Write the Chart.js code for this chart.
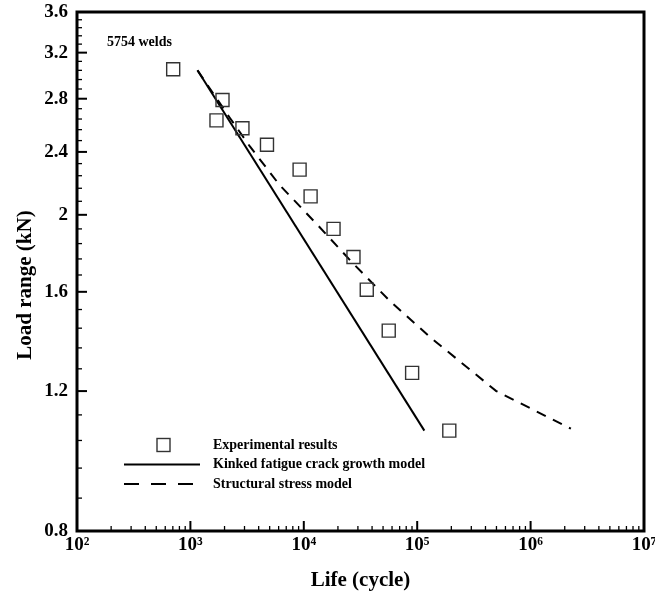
<!DOCTYPE html>
<html>
<head>
<meta charset="utf-8">
<script src="https://cdn.jsdelivr.net/npm/chart.js@4.4.1/dist/chart.umd.min.js"></script>
<style>
  html, body { margin: 0; padding: 0; background: #fff; }
  canvas { display: block; }
</style>
</head>
<body>
<canvas id="snChart" width="655" height="596"></canvas>
<script>
// ============ Data ============
const expLife = [705, 1919, 1698, 2877, 4735, 9183, 11480, 18290, 27420, 35910, 56100, 90200, 191900];
const expLoad = [3.05, 2.79, 2.63, 2.57, 2.45, 2.28, 2.11, 1.92, 1.77, 1.61, 1.43, 1.265, 1.07];

const kinkedLife = [1155, 115600];
const kinkedLoad = [3.04, 1.07];

const structLife = [1155, 2223, 3334, 6124, 12880, 26900, 56900, 132400, 306000, 498000, 2266000];
const structLoad = [3.04, 2.65, 2.44, 2.18, 1.95, 1.74, 1.56, 1.40, 1.27, 1.20, 1.076];

const xMajor = [1e2, 1e3, 1e4, 1e5, 1e6, 1e7];
const xTickLabels = ["10²", "10³", "10⁴", "10⁵", "10⁶", "10⁷"];
const yMajor = [0.8, 1.2, 1.6, 2, 2.4, 2.8, 3.2, 3.6];
const yTickLabels = ["0.8", "1.2", "1.6", "2", "2.4", "2.8", "3.2", "3.6"];

const legendLabels = ["Experimental results", "Kinked fatigue crack growth model", "Structural stress model"];
const noteText = "5754 welds";
const yTitle = "Load range (kN)";

// ============ Ticks ============
function buildXTicks() {
  const out = [];
  for (let i = 0; i < xMajor.length - 1; i++) {
    out.push({ value: xMajor[i], major: true });
    for (let k = 2; k <= 9; k++) out.push({ value: k * xMajor[i], major: false });
  }
  out.push({ value: xMajor[xMajor.length - 1], major: true });
  return out;
}

function buildYTicks() {
  const out = [];
  for (let i = 0; i < yMajor.length - 1; i++) {
    out.push({ value: yMajor[i], major: true });
    const step = (yMajor[i + 1] - yMajor[i]) / 5;
    for (let k = 1; k <= 4; k++) out.push({ value: Math.round((yMajor[i] + k * step) * 1000) / 1000, major: false });
  }
  out.push({ value: yMajor[yMajor.length - 1], major: true });
  return out;
}

const xTicks = buildXTicks();
const yTicks = buildYTicks();

const pts = (xs, ys) => xs.map((x, i) => ({ x: x, y: ys[i] }));
const serif = "'Liberation Serif', 'Times New Roman', serif";

// inward ticks, frame, legend, note, y title
const decor = {
  id: "decor",
  afterDraw(chart) {
    const { ctx, chartArea: a } = chart;
    const xs = chart.scales.x, ys = chart.scales.y;
    ctx.save();
    ctx.strokeStyle = "#000";
    xTicks.forEach(t => {
      const px = xs.getPixelForValue(t.value);
      ctx.lineWidth = t.major ? 2 : 1.3;
      ctx.beginPath();
      ctx.moveTo(px, a.bottom);
      ctx.lineTo(px, a.bottom - (t.major ? 10 : 5));
      ctx.stroke();
    });
    yTicks.forEach(t => {
      const py = ys.getPixelForValue(t.value);
      ctx.lineWidth = t.major ? 2 : 1.3;
      ctx.beginPath();
      ctx.moveTo(a.left, py);
      ctx.lineTo(a.left + (t.major ? 10 : 5), py);
      ctx.stroke();
    });
    // frame
    ctx.lineWidth = 3;
    ctx.beginPath();
    ctx.moveTo(a.left, a.top);
    ctx.lineTo(a.right, a.top);
    ctx.lineTo(a.right, a.bottom);
    ctx.lineTo(a.left, a.bottom);
    ctx.closePath();
    ctx.stroke();

    // legend
    ctx.fillStyle = "#000";
    ctx.font = "bold 14px " + serif;
    ctx.textBaseline = "middle";
    ctx.textAlign = "left";
    const lx = 213, ly = [445, 464.5, 484];
    legendLabels.forEach((s, i) => ctx.fillText(s, lx, ly[i]));
    ctx.strokeStyle = "#333";
    ctx.lineWidth = 1.4;
    ctx.strokeRect(163.5 - 6.5, ly[0] - 6.5, 13, 13);
    ctx.strokeStyle = "#000";
    ctx.lineWidth = 2;
    ctx.beginPath();
    ctx.moveTo(124, ly[1]);
    ctx.lineTo(200, ly[1]);
    ctx.stroke();
    ctx.setLineDash([15, 12]);
    ctx.beginPath();
    ctx.moveTo(124, ly[2]);
    ctx.lineTo(194, ly[2]);
    ctx.stroke();
    ctx.setLineDash([]);

    // note
    ctx.font = "bold 14px " + serif;
    ctx.fillText(noteText, 107, 42);

    // y axis title
    ctx.font = "bold 21px " + serif;
    ctx.textAlign = "center";
    ctx.translate(26, 285);
    ctx.rotate(-Math.PI / 2);
    ctx.fillText(yTitle, 0, 0);
    ctx.restore();
  }
};

const ctx = document.getElementById("snChart").getContext("2d");
new Chart(ctx, {
  type: "scatter",
  data: {
    datasets: [
      {
        label: legendLabels[0],
        data: pts(expLife, expLoad),
        pointStyle: "rect",
        pointRadius: 9.2,
        pointHoverRadius: 9.2,
        borderColor: "#333",
        backgroundColor: "rgba(0,0,0,0)",
        borderWidth: 1.4
      },
      {
        label: legendLabels[1],
        data: pts(kinkedLife, kinkedLoad),
        showLine: true,
        pointRadius: 0,
        borderColor: "#000",
        borderWidth: 2
      },
      {
        label: legendLabels[2],
        data: pts(structLife, structLoad),
        showLine: true,
        pointRadius: 0,
        borderColor: "#000",
        borderWidth: 2,
        borderDash: [10, 8]
      }
    ]
  },
  options: {
    responsive: false,
    animation: false,
    events: [],
    layout: { padding: { top: 12, right: 11, left: 0, bottom: 0 } },
    plugins: { legend: { display: false }, tooltip: { enabled: false } },
    scales: {
      x: {
        type: "logarithmic",
        min: xMajor[0],
        max: xMajor[xMajor.length - 1],
        grid: { display: false, drawTicks: false },
        border: { display: false },
        afterBuildTicks: s => { s.ticks = xTicks.map(t => ({ value: t.value, major: t.major })); },
        afterFit: s => { s.height = 65; s.paddingLeft = 0; s.paddingRight = 0; },
        ticks: {
          autoSkip: false,
          maxRotation: 0,
          padding: 3,
          color: "#000",
          font: { family: serif, size: 19, weight: "bold" },
          callback: (v, i, ticks) => ticks[i].major ? xTickLabels[xMajor.indexOf(v)] : ""
        },
        title: {
          display: true,
          text: "Life (cycle)",
          color: "#000",
          font: { family: serif, size: 21, weight: "bold" },
          padding: { top: 0, bottom: 3 }
        }
      },
      y: {
        type: "logarithmic",
        min: yMajor[0],
        max: yMajor[yMajor.length - 1],
        grid: { display: false, drawTicks: false },
        border: { display: false },
        afterBuildTicks: s => { s.ticks = yTicks.map(t => ({ value: t.value, major: t.major })); },
        afterFit: s => { s.width = 77; s.paddingTop = 0; s.paddingBottom = 0; },
        ticks: {
          autoSkip: false,
          padding: 9,
          color: "#000",
          font: { family: serif, size: 19, weight: "bold" },
          callback: (v, i, ticks) => ticks[i].major ? yTickLabels[yMajor.indexOf(v)] : ""
        }
      }
    }
  },
  plugins: [decor]
});
</script>
</body>
</html>
